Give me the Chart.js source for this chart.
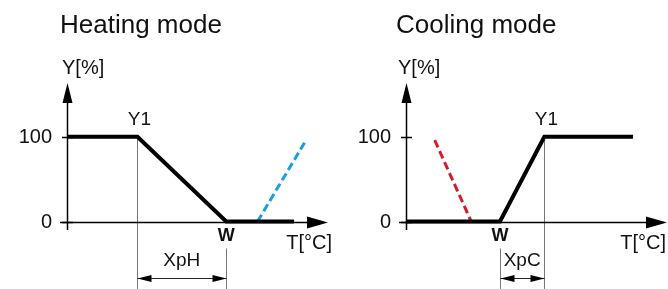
<!DOCTYPE html>
<html>
<head>
<meta charset="utf-8">
<script src="https://cdn.jsdelivr.net/npm/chart.js@4"></script>
<style>
  html, body { margin: 0; padding: 0; background: #fff; }
  #wrap { position: relative; width: 668px; height: 289px; }
  canvas { position: absolute; top: 0; }
</style>
</head>
<body>
<div id="wrap">
  <canvas id="heatChart" width="334" height="289" style="left:0"></canvas>
  <canvas id="coolChart" width="334" height="289" style="left:334px"></canvas>
</div>
<script>
// ===== data (x in % of axis length, y in %) =====
const heatX = [0, 27, 61, 87];
const heatY = [100, 100, 0, 0];
const heatDashX = [73, 91];
const heatDashY = [0, 93];

const coolX = [0, 36, 53, 87];
const coolY = [0, 0, 100, 100];
const coolDashX = [11, 25];
const coolDashY = [96, 0];

const yTicks = [0, 100];

const FONT = '"Liberation Sans", Arial, sans-serif';

function pts(xs, ys) {
  return xs.map((x, i) => ({ x: x, y: ys[i] }));
}

function line(ctx, x1, y1, x2, y2) {
  ctx.beginPath();
  ctx.moveTo(x1, y1);
  ctx.lineTo(x2, y2);
  ctx.stroke();
}

function tri(ctx, tipX, tipY, dx, dy, len, half) {
  // filled arrow head, pointing in direction (dx, dy)
  ctx.beginPath();
  ctx.moveTo(tipX, tipY);
  ctx.lineTo(tipX - dx * len - dy * half, tipY - dy * len + dx * half);
  ctx.lineTo(tipX - dx * len + dy * half, tipY - dy * len - dx * half);
  ctx.closePath();
  ctx.fill();
}

function diagramPlugin(cfg) {
  return {
    id: 'diagram',
    beforeDatasetsDraw(chart) {
      const { ctx, chartArea: a, scales: { x, y } } = chart;
      const H = chart.height;
      const y0 = Math.round(y.getPixelForValue(0)) + 0.5;
      const y100 = Math.round(y.getPixelForValue(100)) + 0.5;
      const pY1 = Math.round(x.getPixelForValue(cfg.y1)) + 0.5;
      const pW = Math.round(x.getPixelForValue(cfg.w)) + 0.5;
      const ax = Math.round(a.left) + 0.5;
      ctx.save();

      // reference lines for the proportional band
      ctx.strokeStyle = '#777';
      ctx.lineWidth = 1;
      line(ctx, pY1, y100, pY1, H);
      line(ctx, pW, y0 + 26, pW, H);

      // double arrow for Xp
      const ya = 278.5;
      ctx.strokeStyle = '#222';
      ctx.fillStyle = '#000';
      line(ctx, Math.min(pY1, pW), ya, Math.max(pY1, pW), ya);
      tri(ctx, Math.min(pY1, pW), ya, -1, 0, 14, 3.5);
      tri(ctx, Math.max(pY1, pW), ya, 1, 0, 14, 3.5);

      // axes
      ctx.strokeStyle = '#000';
      ctx.lineWidth = 1.5;
      line(ctx, ax, a.bottom, ax, a.top + 18);
      tri(ctx, ax, a.top, 0, -1, 20, 5);
      line(ctx, a.left - 7, y0, a.right - 18, y0);
      tri(ctx, a.right, y0, 1, 0, 21, 6);

      // ticks
      yTicks.forEach(v => {
        const ty = Math.round(y.getPixelForValue(v)) + 0.5;
        line(ctx, a.left - 5, ty, a.left + 6, ty);
      });
      ctx.restore();
    },
    afterDatasetsDraw(chart) {
      const { ctx, chartArea: a, scales: { x, y } } = chart;
      const y0 = y.getPixelForValue(0);
      const y100 = y.getPixelForValue(100);
      const pY1 = x.getPixelForValue(cfg.y1);
      const pW = x.getPixelForValue(cfg.w);
      ctx.save();
      ctx.fillStyle = '#111';

      ctx.font = '26px ' + FONT;
      ctx.textAlign = 'left';
      ctx.textBaseline = 'alphabetic';
      ctx.fillText(cfg.title, a.left - cfg.titleShift, 33);

      ctx.font = '20px ' + FONT;
      ctx.fillText('Y[%]', a.left - cfg.titleShift + 2, 74);

      ctx.textAlign = 'right';
      ctx.textBaseline = 'middle';
      yTicks.forEach(v => {
        ctx.fillText(String(v), a.left - 15, y.getPixelForValue(v) + 1);
      });

      ctx.textAlign = 'center';
      ctx.textBaseline = 'alphabetic';
      ctx.font = '19px ' + FONT;
      ctx.fillText('Y1', pY1 + 2, y100 - 12);
      ctx.fillText(cfg.span, (pY1 + pW) / 2, 266);

      ctx.font = 'bold 18px ' + FONT;
      ctx.fillText('W', pW, y0 + 19);

      ctx.font = '20px ' + FONT;
      ctx.textAlign = 'right';
      ctx.fillText('T[°C]', Math.min(a.right + 4, chart.width - 2), 249);
      ctx.restore();
    }
  };
}

function makeChart(id, cfg) {
  return new Chart(document.getElementById(id), {
    type: 'line',
    data: {
      datasets: [{
        data: pts(cfg.x, cfg.y),
        borderColor: '#000',
        borderWidth: 4,
        borderCapStyle: 'butt',
        borderJoinStyle: 'miter',
        pointRadius: 0,
        tension: 0
      }, {
        data: pts(cfg.dashX, cfg.dashY),
        borderColor: cfg.dashColor,
        borderWidth: 3,
        borderDash: [8, 4],
        pointRadius: 0,
        tension: 0
      }]
    },
    options: {
      responsive: false,
      animation: false,
      devicePixelRatio: 1,
      layout: { padding: cfg.padding },
      scales: {
        x: { type: 'linear', min: 0, max: 100, display: false },
        y: { min: -10, max: 163.5, display: false }
      },
      plugins: {
        legend: { display: false },
        tooltip: { enabled: false }
      }
    },
    plugins: [diagramPlugin(cfg)]
  });
}

// ========== Heating mode ==========
const heatChart = makeChart('heatChart', {
  title: 'Heating mode', span: 'XpH', titleShift: 7,
  x: heatX, y: heatY, dashX: heatDashX, dashY: heatDashY,
  dashColor: '#1a9fe0', y1: heatX[1], w: heatX[2],
  padding: { left: 67, right: 6, top: 83, bottom: 59 }
});

// ========== Cooling mode ==========
const coolChart = makeChart('coolChart', {
  title: 'Cooling mode', span: 'XpC', titleShift: 10,
  x: coolX, y: coolY, dashX: coolDashX, dashY: coolDashY,
  dashColor: '#d01f2a', y1: coolX[2], w: coolX[1],
  padding: { left: 72, right: 1, top: 83, bottom: 59 }
});
</script>
</body>
</html>
